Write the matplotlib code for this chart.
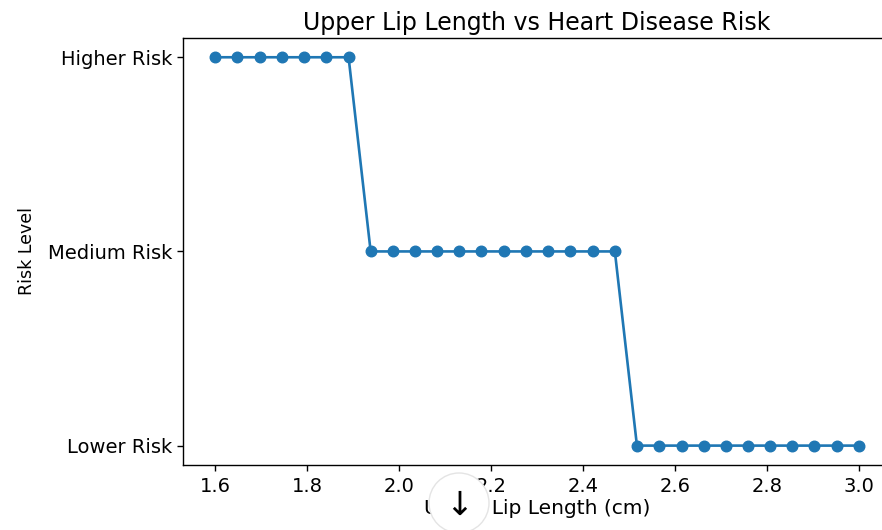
import matplotlib.pyplot as plt
from matplotlib.patches import Circle
from matplotlib.transforms import IdentityTransform

# lip length (cm), 30 samples
lip_length = [1.600, 1.648, 1.697, 1.745, 1.793, 1.841, 1.890,
              1.938, 1.986, 2.034, 2.083, 2.131, 2.179, 2.228, 2.276,
              2.324, 2.372, 2.421, 2.469,
              2.517, 2.566, 2.614, 2.662, 2.710, 2.759, 2.807, 2.855,
              2.903, 2.952, 3.000]
risk_labels = ['Lower Risk', 'Medium Risk', 'Higher Risk']
risk = (['Higher Risk'] * 7 + ['Medium Risk'] * 12 + ['Lower Risk'] * 11)
risk_level = [risk_labels.index(r) for r in risk]

fig = plt.figure(figsize=(8.82, 5.30), dpi=100)
ax = fig.add_axes([0.2075, 0.1226, 0.803, 0.806])

ax.plot(lip_length, risk_level, marker='o', color='#1f77b4',
        linewidth=1.9, markersize=7.6)
ax.set_yticks(range(len(risk_labels)))
ax.set_yticklabels(risk_labels)
ax.set_xticks([1.6, 1.8, 2.0, 2.2, 2.4, 2.6, 2.8, 3.0])
ax.tick_params(labelsize=14, length=4.5, width=1.0)
ax.tick_params(axis='x', pad=4)
for s in ax.spines.values():
    s.set_linewidth(1.0)

ax.set_title('Upper Lip Length vs Heart Disease Risk', fontsize=17, pad=6)
ax.set_xlabel('Upper Lip Length (cm)', fontsize=14.5, labelpad=2)
ax.set_ylabel('Risk Level', fontsize=12.5, labelpad=8)

# scroll button overlay from the screenshot (pixel coords)
btn = Circle((459, 27), 30, transform=IdentityTransform(),
             facecolor='white', edgecolor='#e4e4e4', linewidth=1.0, zorder=10)
fig.patches.append(btn)
fig.text(459, 25, '\u2193', transform=IdentityTransform(), ha='center',
         va='center', fontsize=24, color='black', zorder=11)

fig.savefig('out.png', dpi=100)
